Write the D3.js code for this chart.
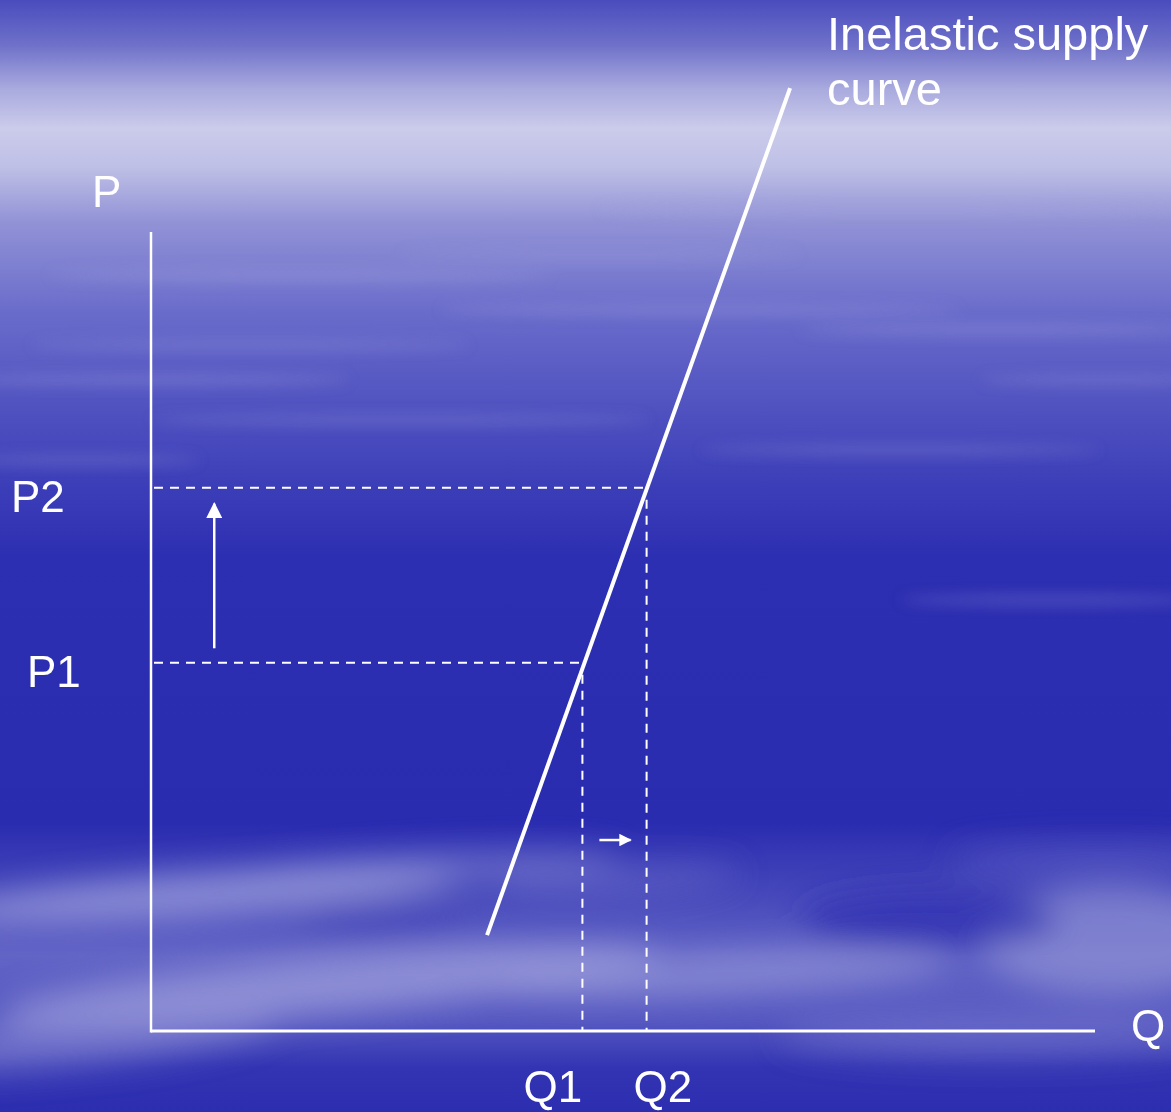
<!DOCTYPE html>
<html>
<head>
<meta charset="utf-8">
<script src="https://cdn.jsdelivr.net/npm/d3@7"></script>
<style>
  body { margin: 0; overflow: hidden; }
  text { font-family: "Liberation Sans", Arial, sans-serif; fill: #fff; }
</style>
</head>
<body>
<svg id="chart"></svg>
<script>
var width = 1171, height = 1112;

// Supply curve end points (quantity, price)
var supplyQ = [35.6, 67.7];
var supplyP = [12.0, 118.0];

// Equilibrium levels
var priceLabels = ["P1", "P2"];
var priceValues = [46.1, 68.0];
var qtyLabels = ["Q1", "Q2"];
var qtyValues = [45.7, 52.5];

// Shift arrows: [q1, p1, q2, p2]
var arrows = [
  [6.7, 47.9, 6.7, 66.0],
  [47.5, 23.9, 50.8, 23.9]
];

var svg = d3.select("#chart")
  .attr("width", width)
  .attr("height", height);

var defs = svg.append("defs");

// Sky background.
var grad = defs.append("linearGradient")
  .attr("id", "sky")
  .attr("x1", 0).attr("y1", 0).attr("x2", 0).attr("y2", 1);
[
  [0, "#4a4cbe"], [0.04, "#6e70c9"], [0.08, "#a9aade"], [0.115, "#cbcbeb"],
  [0.15, "#bfc0e6"], [0.2, "#9192d6"], [0.28, "#6a6ccb"], [0.36, "#5254c1"],
  [0.44, "#3b3db8"], [0.5, "#2d2fb2"], [0.74, "#2a2cb0"], [0.8, "#4446ba"],
  [0.86, "#6264c6"], [0.92, "#5456c0"], [0.96, "#3234b3"], [1, "#2c2eb0"]
].forEach(function(s) {
  grad.append("stop").attr("offset", s[0]).attr("stop-color", s[1]);
});

defs.append("filter").attr("id", "blur")
  .attr("x", "-50%").attr("y", "-50%").attr("width", "200%").attr("height", "200%")
  .append("feGaussianBlur").attr("stdDeviation", 16);

defs.append("filter").attr("id", "blurSmall")
  .attr("x", "-50%").attr("y", "-50%").attr("width", "200%").attr("height", "200%")
  .append("feGaussianBlur").attr("stdDeviation", 7);

function addHead(id, size) {
  defs.append("marker")
    .attr("id", id)
    .attr("viewBox", "0 0 10 10")
    .attr("refX", 9).attr("refY", 5)
    .attr("markerWidth", size).attr("markerHeight", size)
    .attr("orient", "auto")
    .append("path")
      .attr("d", "M0,0L10,5L0,10z")
      .attr("fill", "#fff");
}
addHead("headBig", 6.5);
addHead("headSmall", 5);

svg.append("rect")
  .attr("width", width).attr("height", height)
  .attr("fill", "url(#sky)");

// Soft cloud patches (decoration only).
var clouds = svg.append("g").attr("filter", "url(#blur)");
[
  [200, 895, 260, 22, "#9fa0dc", 0.75, -4],
  [420, 870, 200, 15, "#8e8fd6", 0.55, -3],
  [330, 985, 330, 28, "#9d9edb", 0.75, -5],
  [80, 1040, 200, 25, "#9394d7", 0.55, -6],
  [720, 975, 230, 20, "#9899d9", 0.65, -3],
  [1110, 940, 130, 55, "#9293d6", 0.65, 0],
  [1000, 1035, 220, 22, "#7d7ecf", 0.5, 0],
  [930, 920, 130, 28, "#2b2db0", 0.75, 0],
  [380, 918, 90, 18, "#3f41b8", 0.6, 0],
  [1100, 860, 150, 15, "#6b6dcb", 0.45, 0],
  [620, 880, 120, 14, "#7a7bcf", 0.45, -3]
].forEach(function(c) {
  clouds.append("ellipse")
    .attr("cx", c[0]).attr("cy", c[1]).attr("rx", c[2]).attr("ry", c[3])
    .attr("transform", "rotate(" + c[6] + "," + c[0] + "," + c[1] + ")")
    .attr("fill", c[4]).attr("opacity", c[5]);
});

var streaks = svg.append("g").attr("filter", "url(#blurSmall)");
[
  [300, 275, 250, 6], [900, 210, 300, 6], [150, 380, 200, 5], [700, 310, 260, 5],
  [1000, 330, 200, 5], [400, 420, 250, 4], [900, 450, 200, 4], [1050, 600, 150, 4],
  [250, 345, 220, 4], [600, 255, 200, 4], [80, 460, 120, 4], [1100, 380, 120, 4]
].forEach(function(c) {
  streaks.append("ellipse")
    .attr("cx", c[0]).attr("cy", c[1]).attr("rx", c[2]).attr("ry", c[3])
    .attr("fill", "#a0a1dc").attr("opacity", 0.35);
});

// Scales.
var x = d3.scaleLinear().domain([0, 100]).range([151, 1095]);
var y = d3.scaleLinear().domain([0, 100]).range([1031, 232]);

// Axes as plain lines.
svg.append("line")
  .attr("x1", x(0)).attr("y1", y(0) + 1.5).attr("x2", x(0)).attr("y2", y(100))
  .attr("stroke", "#fff").attr("stroke-width", 2.5);
svg.append("line")
  .attr("x1", x(0)).attr("y1", y(0)).attr("x2", x(100)).attr("y2", y(0))
  .attr("stroke", "#fff").attr("stroke-width", 3);

// Dashed guides.
var guides = svg.append("g")
  .attr("stroke", "#fff")
  .attr("stroke-width", 2)
  .attr("stroke-dasharray", "9,7");
qtyValues.forEach(function(q, i) {
  var p = priceValues[i];
  guides.append("line")
    .attr("x1", x(0) + 3).attr("y1", y(p)).attr("x2", x(q)).attr("y2", y(p));
  guides.append("line")
    .attr("x1", x(q)).attr("y1", y(p) + 12).attr("x2", x(q)).attr("y2", y(0));
});

// Supply curve.
svg.append("line")
  .attr("x1", x(supplyQ[0])).attr("y1", y(supplyP[0]))
  .attr("x2", x(supplyQ[1])).attr("y2", y(supplyP[1]))
  .attr("stroke", "#fff").attr("stroke-width", 4);

// Shift arrows.
svg.append("g").selectAll("line")
  .data(arrows)
  .enter().append("line")
    .attr("x1", function(d) { return x(d[0]); })
    .attr("y1", function(d) { return y(d[1]); })
    .attr("x2", function(d) { return x(d[2]); })
    .attr("y2", function(d) { return y(d[3]); })
    .attr("stroke", "#fff").attr("stroke-width", 2.5)
    .attr("marker-end", function(d, i) { return i === 0 ? "url(#headBig)" : "url(#headSmall)"; });

// Labels.
var fs = 44;
svg.append("text").attr("x", 92).attr("y", 207).attr("font-size", fs).text("P");
svg.append("text").attr("x", 1131).attr("y", 1041).attr("font-size", fs).text("Q");

svg.append("g").selectAll("text")
  .data(priceValues)
  .enter().append("text")
    .attr("x", function(d, i) { return i === 0 ? 27 : 11; })
    .attr("y", function(d) { return y(d) + 24; })
    .attr("font-size", fs)
    .text(function(d, i) { return priceLabels[i]; });

svg.append("g").selectAll("text")
  .data(qtyValues)
  .enter().append("text")
    .attr("x", function(d, i) { return x(d) + (i === 0 ? -59 : -13); })
    .attr("y", 1102)
    .attr("font-size", fs)
    .text(function(d, i) { return qtyLabels[i]; });

var title = svg.append("text")
  .attr("x", 827).attr("y", 50).attr("font-size", 47);
title.append("tspan").attr("x", 827).text("Inelastic supply");
title.append("tspan").attr("x", 827).attr("dy", 55).text("curve");
</script>
</body>
</html>
